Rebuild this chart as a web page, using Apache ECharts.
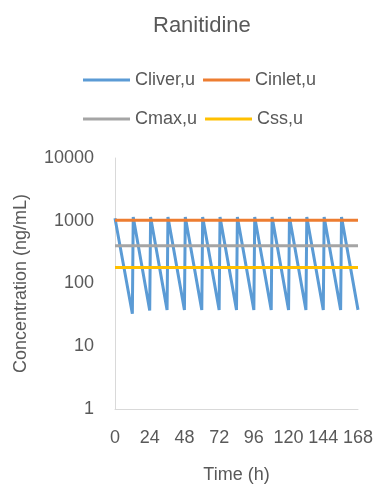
<!DOCTYPE html>
<html><head><meta charset="utf-8">
<script src="https://cdn.jsdelivr.net/npm/echarts@6/dist/echarts.min.js"></script>
<style>html,body{margin:0;padding:0;background:#fff}#c{width:377px;height:484px}</style>
</head><body><div id="c"></div>
<script>
var title = "Ranitidine";
var seriesNames = ["Cliver,u", "Cinlet,u", "Cmax,u", "Css,u"];
var xTicks = [0, 24, 48, 72, 96, 120, 144, 168];
var yTicks = [1, 10, 100, 1000, 10000];
var timeH = [0, 12, 12.6, 24, 24.6, 36, 36.6, 48, 48.6, 60, 60.6, 72, 72.6, 84, 84.6, 96, 96.6, 108, 108.6, 120, 120.6, 132, 132.6, 144, 144.6, 156, 156.6, 168];
var cliver = [1100, 33, 1150, 37, 1150, 38, 1150, 38, 1150, 38, 1150, 38, 1150, 38, 1150, 38, 1150, 38, 1150, 38, 1150, 38, 1150, 38, 1150, 38, 1150, 38];
var cinletValue = 1020;
var cmaxValue = 400;
var cssValue = 180;
var xRange = [0, 168];

var colors = ["#5b9bd5", "#ed7d31", "#a5a5a5", "#ffc000"];
var textColor = "#595959";
var font = "'Liberation Sans', Arial, sans-serif";

function pairs(xs, ys) { return xs.map(function (x, i) { return [x, ys[i]]; }); }
function flat(v) { return [[xRange[0], v], [xRange[1], v]]; }

var chart = echarts.init(document.getElementById('c'), null, {renderer: 'canvas'});
var legendCommon = {
  left: 83, padding: 0, itemWidth: 47, itemHeight: 3, itemGap: 8,
  icon: 'rect',
  textStyle: {color: textColor, fontSize: 18, fontFamily: font}
};
chart.setOption({
  animation: false,
  color: colors,
  title: {text: title, left: 148, top: 10,
    textStyle: {color: textColor, fontSize: 22, fontWeight: 'normal', fontFamily: font}},
  legend: [
    Object.assign({top: 71, data: [seriesNames[0], seriesNames[1]]}, legendCommon),
    Object.assign({top: 110, data: [seriesNames[2], seriesNames[3]]}, legendCommon)
  ],
  grid: {left: 115, right: 19, top: 158, bottom: 75, containLabel: false, outerBoundsMode: 'none'},
  xAxis: {
    type: 'value', min: xRange[0], max: xRange[1], interval: 24,
    name: 'Time (h)', nameLocation: 'middle', nameGap: 57,
    nameTextStyle: {color: textColor, fontSize: 18, fontFamily: font},
    axisLine: {show: true, lineStyle: {color: '#d9d9d9', width: 1}},
    axisTick: {show: false}, splitLine: {show: false},
    axisLabel: {color: textColor, fontSize: 18, fontFamily: font, margin: 20,
      formatter: function (v) { return xTicks.indexOf(v) >= 0 ? String(v) : ''; }}
  },
  yAxis: {
    type: 'log', logBase: 10, min: yTicks[0], max: yTicks[yTicks.length - 1],
    name: 'Concentration (ng/mL)', nameLocation: 'middle', nameGap: 85,
    nameTextStyle: {color: textColor, fontSize: 18, fontFamily: font},
    axisLine: {show: true, lineStyle: {color: '#d9d9d9', width: 1}},
    axisTick: {show: false}, splitLine: {show: false},
    axisLabel: {color: textColor, fontSize: 18, fontFamily: font, margin: 21,
      formatter: function (v) { return String(Math.round(v)); }}
  },
  series: [
    {name: seriesNames[0], type: 'line', data: pairs(timeH, cliver), showSymbol: false, symbol: 'none',
      lineStyle: {width: 3, color: colors[0]}, z: 2},
    {name: seriesNames[1], type: 'line', data: flat(cinletValue), showSymbol: false, symbol: 'none',
      lineStyle: {width: 3, color: colors[1]}, z: 3},
    {name: seriesNames[2], type: 'line', data: flat(cmaxValue), showSymbol: false, symbol: 'none',
      lineStyle: {width: 3, color: colors[2]}, z: 4},
    {name: seriesNames[3], type: 'line', data: flat(cssValue), showSymbol: false, symbol: 'none',
      lineStyle: {width: 3, color: colors[3]}, z: 5}
  ]
});
</script></body></html>
